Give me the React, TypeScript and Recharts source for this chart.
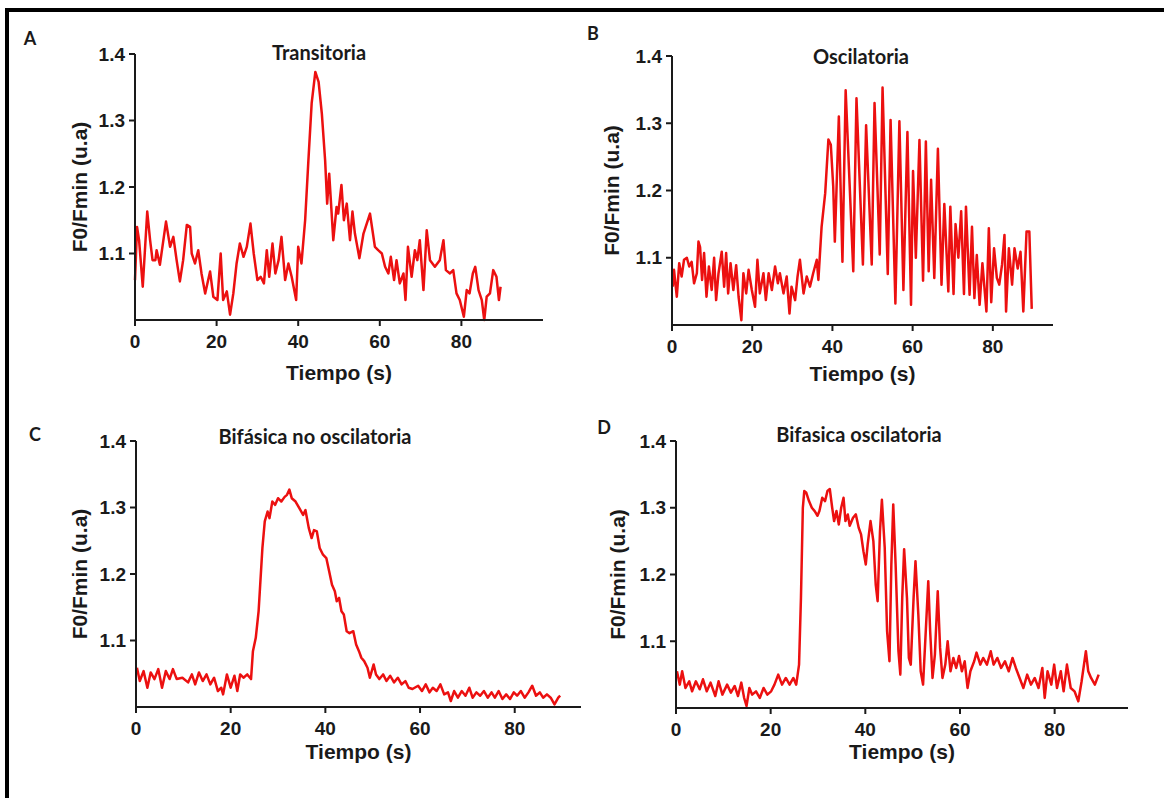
import React from 'react'
import { LineChart, Line, XAxis, YAxis } from 'recharts'

// A - Transitoria
const timeA = [
  0, 0.5, 1.0, 1.9, 3.0, 3.7, 4.3, 5.0, 5.3, 6.1,
  7.6, 8.6, 9.4, 10.2, 11.0, 11.8, 12.7, 13.5, 13.9, 14.7,
  15.5, 16.3, 17.2, 18.4, 19.2, 20.2, 21.0, 21.6, 22.5, 23.3,
  24.1, 24.9, 25.7, 26.6, 27.4, 28.3, 29.1, 30.0, 30.8, 31.6,
  32.3, 32.9, 33.7, 34.4, 35.2, 35.9, 36.8, 37.6, 38.4, 39.5,
  40.0, 40.8, 41.7, 42.5, 43.3, 44.2, 45.0, 45.8, 46.6, 47.1,
  47.6, 48.6, 49.4, 49.8, 50.6, 51.2, 51.9, 52.7, 53.3, 53.9,
  55.0, 56.0, 56.8, 57.6, 58.2, 58.8, 59.6, 60.5, 61.3, 62.1,
  62.7, 63.5, 64.1, 64.9, 65.8, 66.3, 66.9, 67.8, 68.6, 69.2,
  69.8, 70.7, 71.5, 72.3, 73.5, 74.7, 75.6, 76.2, 77.2, 78.0,
  78.8, 79.6, 80.6, 81.3, 82.0, 82.8, 83.4, 84.2, 85.0, 85.6,
  86.2, 87.0, 87.8, 88.6, 89.2, 89.6
]
const valuesA = [
  1.06, 1.14, 1.12, 1.05, 1.163, 1.12, 1.09, 1.09, 1.105, 1.083,
  1.148, 1.11, 1.125, 1.09, 1.058, 1.09, 1.143, 1.14, 1.10, 1.085,
  1.105, 1.07, 1.04, 1.073, 1.035, 1.03, 1.10, 1.03, 1.043, 1.008,
  1.04, 1.085, 1.115, 1.095, 1.11, 1.145, 1.10, 1.06, 1.065, 1.055,
  1.105, 1.065, 1.115, 1.07, 1.09, 1.125, 1.06, 1.085, 1.065, 1.03,
  1.11, 1.085, 1.15, 1.24, 1.326, 1.373, 1.358, 1.31, 1.24, 1.175,
  1.22, 1.12, 1.17, 1.16, 1.203, 1.15, 1.175, 1.12, 1.163, 1.13,
  1.093, 1.13, 1.145, 1.16, 1.135, 1.11, 1.105, 1.10, 1.08, 1.07,
  1.095, 1.06, 1.09, 1.055, 1.07, 1.03, 1.11, 1.065, 1.105, 1.09,
  1.12, 1.045, 1.135, 1.09, 1.08, 1.09, 1.12, 1.075, 1.07, 1.075,
  1.04, 1.03, 1.005, 1.045, 1.04, 1.07, 1.08, 1.045, 1.03, 1.0,
  1.035, 1.04, 1.075, 1.065, 1.03, 1.05
]

// B - Oscilatoria
const timeB = [
  0.2, 0.5, 1.2, 1.8, 2.4, 3.0, 3.7, 4.3, 4.9, 5.5,
  6.2, 6.6, 7.0, 7.5, 8.0, 8.6, 9.2, 9.9, 10.5, 11.0,
  11.6, 12.4, 13.0, 13.5, 14.0, 14.6, 15.3, 16.0, 16.6, 17.3,
  17.8, 18.5, 19.1, 19.9, 20.7, 21.3, 21.9, 22.8, 23.4, 24.1,
  24.9, 25.7, 26.4, 26.9, 27.8, 28.6, 29.3, 29.8, 30.7, 31.3,
  31.9, 32.8, 33.6, 34.4, 35.2, 36.1, 36.5, 37.3, 38.2, 39.0,
  39.6, 40.2, 40.6, 41.6, 42.5, 43.3, 45.2, 46.0, 47.6, 48.4,
  49.8, 50.5, 51.8, 52.5, 53.8, 54.5, 55.7, 56.7, 57.7, 58.7,
  59.6, 60.1, 60.8, 61.7, 62.6, 63.3, 64.0, 64.6, 65.4, 66.3,
  67.2, 67.9, 68.9, 69.4, 70.2, 70.7, 71.4, 72.1, 72.8, 73.3,
  74.2, 74.8, 75.4, 76.0, 76.7, 77.4, 78.4, 79.0, 79.6, 80.3,
  81.0, 81.6, 82.3, 82.9, 83.3, 84.0, 84.8, 85.4, 86.2, 86.9,
  87.6, 88.4, 89.1, 89.7
]
const valuesB = [
  1.057, 1.082, 1.042, 1.092, 1.072, 1.097, 1.100, 1.087, 1.094, 1.062,
  1.077, 1.124, 1.116, 1.067, 1.107, 1.042, 1.087, 1.052, 1.100, 1.037,
  1.077, 1.109, 1.057, 1.107, 1.047, 1.092, 1.052, 1.089, 1.042, 1.007,
  1.077, 1.047, 1.082, 1.052, 1.027, 1.097, 1.047, 1.077, 1.037, 1.077,
  1.052, 1.087, 1.062, 1.077, 1.047, 1.072, 1.017, 1.057, 1.037, 1.072,
  1.097, 1.047, 1.072, 1.057, 1.077, 1.097, 1.067, 1.146, 1.196, 1.276,
  1.268, 1.206, 1.124, 1.310, 1.094, 1.349, 1.080, 1.337, 1.090, 1.297,
  1.090, 1.330, 1.105, 1.353, 1.076, 1.305, 1.032, 1.303, 1.052, 1.287,
  1.030, 1.229, 1.100, 1.275, 1.066, 1.273, 1.080, 1.216, 1.070, 1.262,
  1.060, 1.180, 1.050, 1.176, 1.046, 1.150, 1.100, 1.169, 1.046, 1.176,
  1.045, 1.146, 1.040, 1.104, 1.030, 1.092, 1.020, 1.144, 1.034, 1.114,
  1.070, 1.060, 1.090, 1.134, 1.020, 1.114, 1.060, 1.114, 1.084, 1.109,
  1.020, 1.139, 1.139, 1.024
]

// C - Bifásica no oscilatoria
const timeC = [
  0.2, 0.8, 1.6, 2.4, 3.1, 3.9, 4.7, 5.5, 6.3, 7.1,
  7.8, 8.6, 9.8, 11.0, 11.8, 12.5, 13.3, 14.1, 14.9, 15.7,
  16.5, 17.3, 18.0, 18.4, 19.2, 20.0, 20.8, 21.4, 22.0, 22.7,
  23.5, 24.3, 24.7, 25.3, 25.9, 26.7, 27.2, 27.8, 28.2, 28.8,
  29.4, 30.0, 30.7, 31.4, 31.9, 32.4, 32.9, 33.7, 34.5, 35.3,
  35.8, 36.5, 37.1, 37.6, 38.2, 38.8, 39.5, 40.2, 40.8, 41.4,
  42.0, 42.4, 42.9, 43.4, 43.9, 44.5, 45.1, 45.9, 46.5, 47.1,
  47.6, 48.2, 48.9, 49.4, 50.2, 50.7, 51.4, 52.2, 52.9, 53.7,
  54.5, 55.3, 56.1, 56.9, 57.6, 58.4, 59.6, 60.4, 61.2, 62.0,
  62.7, 63.5, 64.3, 65.1, 65.9, 66.5, 67.2, 68.0, 68.8, 69.6,
  70.4, 71.1, 71.9, 72.7, 73.5, 74.3, 75.1, 75.8, 76.6, 77.4,
  78.2, 79.0, 79.8, 80.5, 81.3, 82.1, 82.9, 83.7, 84.5, 85.3,
  86.0, 86.8, 87.6, 88.4, 89.2, 89.6
]
const valuesC = [
  1.059, 1.039, 1.054, 1.029, 1.052, 1.042, 1.057, 1.029, 1.054, 1.042,
  1.057, 1.042, 1.044, 1.037, 1.049, 1.034, 1.052, 1.039, 1.049, 1.034,
  1.044, 1.024, 1.029, 1.019, 1.049, 1.029, 1.047, 1.024, 1.049, 1.044,
  1.049, 1.042, 1.084, 1.104, 1.144, 1.239, 1.279, 1.294, 1.284, 1.309,
  1.304, 1.314, 1.309, 1.316, 1.319, 1.327, 1.314, 1.309, 1.299, 1.289,
  1.296, 1.269, 1.254, 1.266, 1.264, 1.239, 1.229, 1.224, 1.204, 1.184,
  1.174, 1.159, 1.164, 1.144, 1.139, 1.114, 1.111, 1.114, 1.094, 1.084,
  1.074, 1.069, 1.059, 1.044, 1.064, 1.049, 1.042, 1.049, 1.039, 1.047,
  1.037, 1.044, 1.034, 1.039, 1.029, 1.027, 1.032, 1.024, 1.034, 1.022,
  1.029, 1.024, 1.034, 1.019, 1.022, 1.009, 1.024, 1.014, 1.024, 1.017,
  1.029, 1.014, 1.022, 1.017, 1.024, 1.014, 1.022, 1.014, 1.024, 1.012,
  1.019, 1.012, 1.022, 1.017, 1.024, 1.014, 1.022, 1.032, 1.017, 1.022,
  1.014, 1.019, 1.014, 1.004, 1.014, 1.017
]

// D - Bifasica oscilatoria
const timeD = [
  0.2, 0.8, 1.3, 2.0, 2.8, 3.4, 4.2, 5.0, 5.7, 6.5,
  7.3, 8.3, 9.0, 9.8, 10.8, 11.6, 12.4, 13.1, 13.8, 14.4,
  14.9, 15.5, 16.1, 16.9, 17.7, 18.5, 19.3, 20.1, 20.8, 21.6,
  22.4, 23.2, 24.0, 24.8, 25.4, 26.0, 26.4, 26.8, 27.1, 27.5,
  28.1, 28.7, 29.3, 29.9, 30.3, 30.9, 31.5, 32.0, 32.5, 33.0,
  33.4, 33.9, 34.4, 34.9, 35.4, 35.8, 36.3, 36.7, 37.4, 38.0,
  38.6, 39.1, 39.6, 40.1, 40.5, 41.1, 41.7, 42.2, 42.6, 43.1,
  43.5, 44.1, 44.6, 45.1, 45.5, 45.9, 46.4, 47.0, 47.4, 47.8,
  48.2, 48.8, 49.2, 49.6, 50.2, 50.6, 51.2, 51.7, 52.2, 52.7,
  53.3, 53.7, 54.2, 54.7, 55.3, 55.8, 56.3, 56.9, 57.4, 58.0,
  58.6, 59.2, 59.8, 60.4, 61.0, 61.6, 62.2, 63.0, 63.5, 64.3,
  64.9, 65.7, 66.5, 67.1, 67.9, 68.7, 69.5, 70.3, 71.1, 71.8,
  72.6, 73.4, 74.2, 75.0, 75.8, 76.6, 77.4, 77.9, 78.5, 79.3,
  79.9, 80.5, 81.3, 81.9, 82.6, 83.4, 84.2, 85.0, 85.7, 86.6,
  87.1, 87.7, 88.5, 89.3
]
const valuesD = [
  1.055, 1.035, 1.055, 1.030, 1.040, 1.025, 1.040, 1.028, 1.043, 1.025,
  1.038, 1.018, 1.040, 1.020, 1.035, 1.023, 1.033, 1.018, 1.038, 1.015,
  1.003, 1.030, 1.020, 1.025, 1.015, 1.030, 1.020, 1.025, 1.035, 1.050,
  1.035, 1.045, 1.035, 1.045, 1.035, 1.065, 1.165, 1.300, 1.325, 1.323,
  1.310, 1.300, 1.295, 1.288, 1.295, 1.315, 1.310, 1.325, 1.328, 1.300,
  1.280, 1.295, 1.275, 1.300, 1.315, 1.280, 1.290, 1.273, 1.285, 1.290,
  1.270, 1.260, 1.235, 1.215, 1.245, 1.280, 1.250, 1.185, 1.160, 1.265,
  1.312, 1.240, 1.115, 1.070, 1.215, 1.305, 1.215, 1.085, 1.050, 1.165,
  1.238, 1.165, 1.075, 1.065, 1.165, 1.220, 1.140, 1.055, 1.035, 1.105,
  1.190, 1.115, 1.045, 1.080, 1.175, 1.090, 1.045, 1.065, 1.100, 1.055,
  1.075, 1.060, 1.078, 1.055, 1.070, 1.030, 1.055, 1.070, 1.083, 1.065,
  1.075, 1.065, 1.085, 1.065, 1.075, 1.060, 1.070, 1.055, 1.075, 1.060,
  1.045, 1.030, 1.050, 1.035, 1.045, 1.030, 1.060, 1.015, 1.055, 1.035,
  1.065, 1.030, 1.055, 1.025, 1.065, 1.030, 1.025, 1.010, 1.040, 1.085,
  1.055, 1.045, 1.035, 1.050
]

const xTicks = [0, 20, 40, 60, 80]
const yTicks = [1.1, 1.2, 1.3, 1.4]

const AXIS = '#1a1a1a'
const TRACE = '#ec1010'
const ARIAL = '"Liberation Sans", Arial, sans-serif'
const TITLE_FONT = 'Lato, "Open Sans", sans-serif'

const toRows = (times: number[], values: number[]) =>
  times.map((t, i) => ({ t, v: values[i] }))

interface Box {
  left: number
  top: number
  width: number
  height: number
}

interface PlotArea {
  left: number
  top: number
  right: number
  bottom: number
}

interface PanelProps {
  rows: { t: number; v: number }[]
  box: Box
  plot: PlotArea
  xMax: number
  yAxisWidth: number
  xAxisHeight: number
}

const tickStyle = {
  fill: AXIS,
  fontFamily: ARIAL,
  fontWeight: 700,
  fontSize: 19
}

const titleStyle = {
  fill: AXIS,
  fontFamily: ARIAL,
  fontWeight: 700,
  fontSize: 21
}

const Panel = ({ rows, box, plot, xMax, yAxisWidth, xAxisHeight }: PanelProps) => {
  const margin = {
    left: plot.left - box.left - yAxisWidth,
    top: plot.top - box.top,
    right: box.left + box.width - plot.right,
    bottom: box.top + box.height - plot.bottom - xAxisHeight
  }
  return (
    <div style={{ position: 'absolute', left: box.left, top: box.top }}>
      <LineChart width={box.width} height={box.height} data={rows} margin={margin}>
        <XAxis
          dataKey='t'
          type='number'
          domain={[0, xMax]}
          ticks={xTicks}
          height={xAxisHeight}
          tickSize={6}
          tickMargin={9}
          axisLine={{ stroke: AXIS, strokeWidth: 2 }}
          tickLine={{ stroke: AXIS, strokeWidth: 2 }}
          tick={tickStyle}
          label={{ value: 'Tiempo (s)', position: 'center', ...titleStyle }}
        />
        <YAxis
          type='number'
          domain={[1.0, 1.4]}
          ticks={yTicks}
          width={yAxisWidth}
          tickSize={6}
          tickMargin={4}
          tickFormatter={(v: number) => v.toFixed(1)}
          axisLine={{ stroke: AXIS, strokeWidth: 2 }}
          tickLine={{ stroke: AXIS, strokeWidth: 2 }}
          tick={tickStyle}
          label={{ value: 'F0/Fmin (u.a)', angle: -90, position: 'center', ...titleStyle }}
        />
        <Line
          type='linear'
          dataKey='v'
          stroke={TRACE}
          strokeWidth={2.5}
          strokeLinejoin='round'
          dot={false}
          activeDot={false}
          isAnimationActive={false}
        />
      </LineChart>
    </div>
  )
}

const Caption = ({ x, y, text, size }: { x: number; y: number; text: string; size: number }) => (
  <div
    style={{
      position: 'absolute',
      left: x,
      top: y,
      transform: 'translate(-50%, -50%)',
      fontFamily: TITLE_FONT,
      fontWeight: 700,
      fontSize: size,
      lineHeight: 1,
      color: '#1a1a1a',
      whiteSpace: 'nowrap'
    }}
  >
    {text}
  </div>
)

export default function App() {
  return (
    <div
      style={{
        position: 'absolute',
        left: 0,
        top: 0,
        width: 1164,
        height: 798,
        background: '#fff',
        overflow: 'hidden'
      }}
    >
      <div
        style={{
          position: 'absolute',
          left: 5,
          top: 8,
          width: 1170,
          height: 800,
          borderTop: '4px solid #000',
          borderLeft: '4px solid #000'
        }}
      />
      <Panel
        rows={toRows(timeA, valuesA)}
        box={{ left: 0, top: 0, width: 582, height: 430 }}
        plot={{ left: 135, top: 54, right: 543, bottom: 320 }}
        xMax={100}
        yAxisWidth={110}
        xAxisHeight={106}
      />
      <Panel
        rows={toRows(timeB, valuesB)}
        box={{ left: 540, top: 0, width: 560, height: 430 }}
        plot={{ left: 672, top: 56, right: 1053, bottom: 325 }}
        xMax={95}
        yAxisWidth={120}
        xAxisHeight={98}
      />
      <Panel
        rows={toRows(timeC, valuesC)}
        box={{ left: 0, top: 400, width: 620, height: 398 }}
        plot={{ left: 136, top: 441, right: 581, bottom: 707 }}
        xMax={94}
        yAxisWidth={112}
        xAxisHeight={90}
      />
      <Panel
        rows={toRows(timeD, valuesD)}
        box={{ left: 540, top: 400, width: 624, height: 398 }}
        plot={{ left: 676, top: 441, right: 1128, bottom: 708 }}
        xMax={95.5}
        yAxisWidth={116}
        xAxisHeight={88}
      />
      <Caption x={30} y={38} text='A' size={18} />
      <Caption x={593} y={33} text='B' size={18} />
      <Caption x={35} y={434} text='C' size={18} />
      <Caption x={604} y={427} text='D' size={18} />
      <Caption x={319} y={52} text='Transitoria' size={20} />
      <Caption x={861} y={56} text='Oscilatoria' size={20} />
      <Caption x={315} y={436} text='Bifásica no oscilatoria' size={20} />
      <Caption x={859} y={434} text='Bifasica oscilatoria' size={20} />
    </div>
  )
}
